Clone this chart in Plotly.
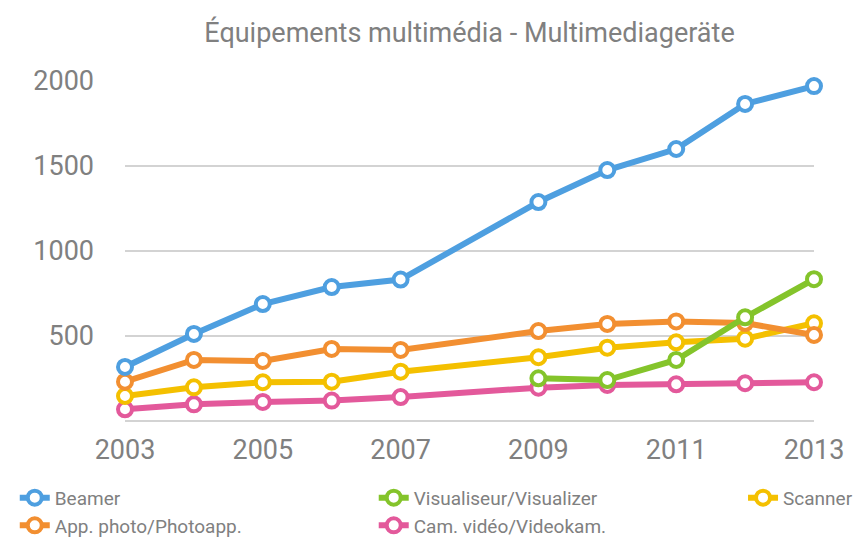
import plotly.graph_objects as go

years = [2003, 2004, 2005, 2006, 2007, 2009, 2010, 2011, 2012, 2013]
years_vis = [2009, 2010, 2011, 2012, 2013]
beamer = [318, 512, 688, 788, 832, 1288, 1476, 1600, 1865, 1970]
photo = [231, 359, 353, 424, 418, 529, 571, 586, 576, 506]
scanner = [147, 198, 228, 231, 290, 375, 431, 463, 484, 575]
video = [69, 98, 112, 120, 141, 196, 212, 216, 222, 228]
visual = [251, 241, 359, 610, 834]

# name, x, y, colour, legend group, rank
series = [
    ("Beamer", years, beamer, "#4E9FE0", "legend", 1),
    ("App. photo/Photoapp.", years, photo, "#F28F31", "legend", 2),
    ("Visualiseur/Visualizer", years_vis, visual, "#84C42B", "legend2", 1),
    ("Cam. vidéo/Videokam.", years, video, "#E3599B", "legend2", 2),
    ("Scanner", years, scanner, "#F4C000", "legend3", 1),
]
draw_order = [3, 4, 1, 2, 0]

FONT = "Roboto, Noto Sans, sans-serif"
fig = go.Figure()
for i in draw_order:
    name, x, y, c, lg, rank = series[i]
    fig.add_trace(go.Scatter(
        x=x, y=y, name=name, mode="lines+markers",
        line=dict(color=c, width=6),
        marker=dict(symbol="circle", size=14, color="white", line=dict(color=c, width=4)),
        cliponaxis=False, legend=lg, legendrank=rank,
    ))

leg_common = dict(orientation="v", yanchor="top", y=-0.17, xanchor="left",
                  traceorder="normal", itemwidth=30, tracegroupgap=0,
                  bgcolor="rgba(0,0,0,0)",
                  font=dict(family=FONT, size=19, color="#808080"))

fig.update_layout(
    width=867, height=538,
    paper_bgcolor="white", plot_bgcolor="white",
    margin=dict(l=125, r=53, t=81, b=117, autoexpand=False),
    title=dict(text="Équipements multimédia - Multimediageräte", xref="paper", x=0.5,
               xanchor="center", yref="container", y=0.94, yanchor="middle",
               font=dict(family=FONT, size=27, color="#808080")),
    font=dict(family=FONT, color="#808080"),
    showlegend=True,
    legend=dict(x=-0.160, **leg_common),
    legend2=dict(x=0.361, **leg_common),
    legend3=dict(x=0.897, **leg_common),
    xaxis=dict(range=[2003, 2013], tickvals=[2003, 2005, 2007, 2009, 2011, 2013],
               showgrid=False, zeroline=False, showline=False,
               tickfont=dict(family=FONT, size=27, color="#808080"), ticks="",
               ticklabelstandoff=10),
    yaxis=dict(range=[0, 2000], tickvals=[0, 500, 1000, 1500, 2000],
               ticktext=["", "500", "1000", "1500", "2000"],
               showgrid=True, gridcolor="#D3D3D3", gridwidth=2,
               zeroline=True, zerolinecolor="#D3D3D3", zerolinewidth=2,
               showline=False, ticks="", ticklabelstandoff=30,
               tickfont=dict(family=FONT, size=27, color="#808080")),
)

fig.write_html("out.html", config={"displayModeBar": False})
with open("out.html", encoding="utf-8") as f:
    html = f.read()
html = html.replace("<body>", '<body style="margin:0;overflow:hidden">', 1)
with open("out.html", "w", encoding="utf-8") as f:
    f.write(html)
